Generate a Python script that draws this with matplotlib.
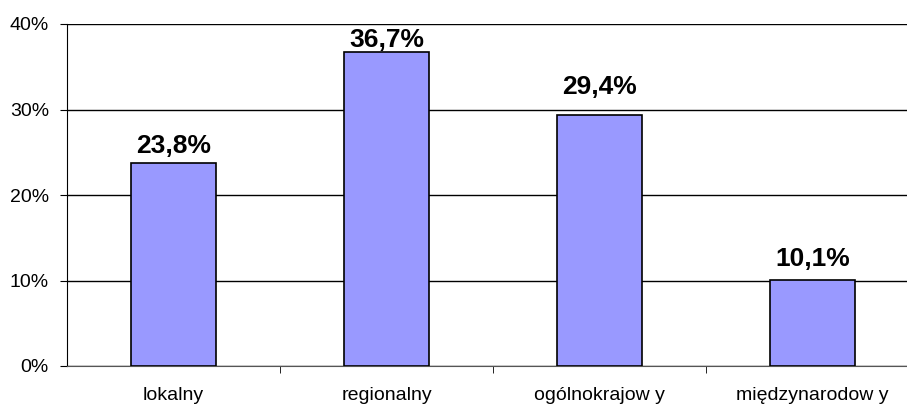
import matplotlib.pyplot as plt
from matplotlib.ticker import FixedLocator

plt.rcParams["font.family"] = ["Liberation Sans", "DejaVu Sans"]

categories = ["lokalny", "regionalny", "ogólnokrajow y", "międzynarodow y"]
values = [23.8, 36.7, 29.4, 10.1]
labels = ["23,8%", "36,7%", "29,4%", "10,1%"]
yticks = [0, 10, 20, 30, 40]
# gap (points) between each bar top and its label, as placed in the original
label_gaps = [7, 3.5, 14.5, 10]

fig = plt.figure(figsize=(9.07, 4.05), dpi=100)
# the plot area runs a bit past the right edge of the image in the original
ax = fig.add_axes([67 / 907, 1 - 366 / 405, 852 / 907, (366 - 24) / 405])

x = range(len(categories))
ax.bar(x, values, width=0.40, color="#9999FF", edgecolor="black", linewidth=1.2, zorder=3)
for xi, v, lab, g in zip(x, values, labels, label_gaps):
    ax.annotate(lab, (xi, v), xytext=(0, g), textcoords="offset points",
                ha="center", va="baseline", fontsize=19, fontweight="bold",
                annotation_clip=False)

ax.set_xlim(-0.5, len(categories) - 0.5)
ax.set_ylim(0, 40)
ax.set_yticks(yticks)
ax.set_yticklabels([f"{t}%" for t in yticks], fontsize=14)
ax.yaxis.grid(True, color="black", linewidth=1)
ax.set_axisbelow(True)

ax.set_xticks(list(x))
ax.set_xticklabels(categories, fontsize=14)
ax.tick_params(axis="x", length=0, pad=15)
ax.xaxis.set_minor_locator(FixedLocator([0.5, 1.5, 2.5]))
ax.tick_params(axis="x", which="minor", length=5, color="black")
ax.tick_params(axis="y", length=5, color="black", pad=8)

for s in ["top", "right"]:
    ax.spines[s].set_visible(False)
ax.spines["bottom"].set_color("#555555")

fig.savefig("out.png", dpi=100)
